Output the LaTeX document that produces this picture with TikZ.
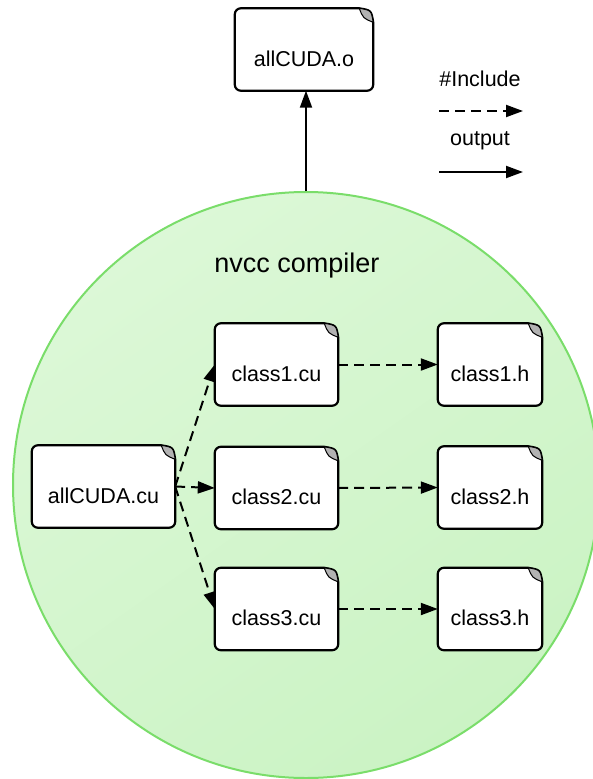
\documentclass[tikz,border=0pt]{standalone}
\usepackage{fontspec}
\setmainfont{Liberation Sans}
\usetikzlibrary{arrows.meta,calc,backgrounds}
\pgfdeclarelayer{docs}
\pgfsetlayers{background,docs,main}
\definecolor{cfilltop}{RGB}{220,248,215}
\definecolor{cfillbot}{RGB}{203,243,196}
\definecolor{cline}{RGB}{122,221,106}
\newcommand\docshape[1]{%
  \path[docline] ([xshift=-14pt]#1.north east) -- ([xshift=6pt]#1.north west)
    arc[start angle=90,end angle=180,radius=6pt] -- ([yshift=6pt]#1.south west)
    arc[start angle=180,end angle=270,radius=6pt] -- ([xshift=-6pt]#1.south east)
    arc[start angle=270,end angle=360,radius=6pt] -- ([yshift=-14pt]#1.north east)
    .. controls ([xshift=-2pt,yshift=-2pt]#1.north east) .. ([xshift=-14pt]#1.north east) -- cycle;
  \path[docflap] ([xshift=-14pt]#1.north east)
    .. controls ([xshift=-2pt,yshift=-2pt]#1.north east) .. ([yshift=-14pt]#1.north east)
    .. controls ([xshift=-10pt,yshift=-10pt]#1.north east) .. ([xshift=-14pt]#1.north east) -- cycle;
}
\tikzset{
  doc/.style={minimum height=82pt, inner sep=0pt, text height=33pt, text depth=0pt,
    font=\fontsize{21.5}{26}\selectfont},
  docline/.style={draw=black, line width=2.2pt, fill=white, line join=round},
  docflap/.style={draw=black, line width=1pt, fill=black!30, line join=round},
  compiler/.style={circle, minimum size=586pt, inner sep=0pt, draw=cline, line width=2pt,
    top color=cfilltop, bottom color=cfillbot, shading angle=35},
  tip/.style={-{Triangle[length=17pt,width=12pt]}},
  incl/.style={tip, line width=2pt, dash pattern=on 10pt off 6pt},
  outp/.style={tip, line width=2pt},
  legtext/.style={font=\fontsize{21.5}{26}\selectfont, inner sep=0pt},
}
\begin{document}
\begin{tikzpicture}[x=1pt,y=-1pt]
\useasboundingbox (0,0) rectangle (593,779);
\begin{pgfonlayer}{background}
  \clip (0,0) rectangle (593,779);
  \node[compiler] (comp) at (306,485) {};
\end{pgfonlayer}
\node[font=\fontsize{27}{32}\selectfont] (lbl) at (297,266) {nvcc compiler};

\node[doc, minimum width=138pt] (o) at (304,49.5) {allCUDA.o};
\node[doc, minimum width=143pt] (cu) at (103.5,486.5) {allCUDA.cu};
\node[doc, minimum width=123pt] (c1) at (276.5,364.5) {class1.cu};
\node[doc, minimum width=123pt] (c2) at (276.5,488) {class2.cu};
\node[doc, minimum width=123pt] (c3) at (276.5,609) {class3.cu};
\node[doc, minimum width=104pt] (h1) at (490,364.5) {class1.h};
\node[doc, minimum width=104pt] (h2) at (490,487.5) {class2.h};
\node[doc, minimum width=104pt] (h3) at (490,609) {class3.h};

\begin{pgfonlayer}{docs}
  \foreach \n in {o,cu,c1,c2,c3,h1,h2,h3} {\docshape{\n}}
\end{pgfonlayer}

\draw[outp] (comp.north) -- (comp.north |- o.south);
\draw[incl] (cu.east) -- (c1.west);
\draw[incl] (cu.east) -- (c2.west);
\draw[incl] (cu.east) -- (c3.west);
\draw[incl] (c1.east) -- (h1.west);
\draw[incl] (c2.east) -- (h2.west);
\draw[incl] (c3.east) -- (h3.west);

\node[legtext] (linc) at (480,79) {\#Include};
\coordinate (l1s) at (439,111);
\coordinate (l1e) at (523,111);
\draw[incl] (l1s) -- (l1e);
\node[legtext] (lout) at (480,141) {output};
\coordinate (l2s) at (439,172);
\coordinate (l2e) at (523,172);
\draw[outp] (l2s) -- (l2e);
\end{tikzpicture}
\end{document}
